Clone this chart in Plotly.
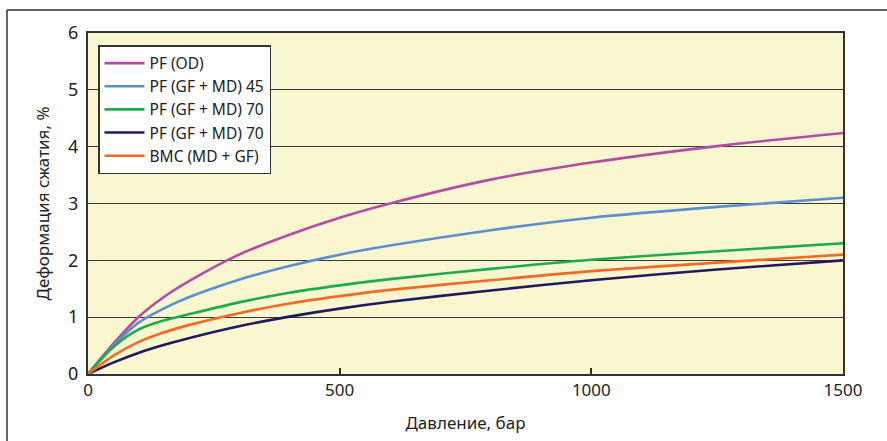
import plotly.graph_objects as go

pressure = [0, 50, 100, 150, 200, 300, 400, 500, 600, 800, 1000, 1250, 1500]

pf_od = [0, 0.53, 1.00, 1.35, 1.63, 2.10, 2.45, 2.75, 3.00, 3.42, 3.72, 4.01, 4.24]
pf_gf_md45 = [0, 0.50, 0.90, 1.15, 1.35, 1.66, 1.90, 2.10, 2.26, 2.53, 2.75, 2.94, 3.10]
pf_gf_md70 = [0, 0.47, 0.78, 0.94, 1.05, 1.26, 1.43, 1.56, 1.67, 1.85, 2.01, 2.16, 2.30]
pf_gf_md70b = [0, 0.20, 0.37, 0.51, 0.63, 0.84, 1.01, 1.15, 1.27, 1.47, 1.65, 1.84, 2.00]
bmc_md_gf = [0, 0.32, 0.56, 0.73, 0.86, 1.07, 1.24, 1.37, 1.48, 1.65, 1.81, 1.96, 2.10]

names = ["PF (OD)", "PF (GF + MD) 45", "PF (GF + MD) 70", "PF (GF + MD) 70", "BMC (MD + GF)"]
series = [pf_od, pf_gf_md45, pf_gf_md70, pf_gf_md70b, bmc_md_gf]
colors = ["#B54CA3", "#5B8FD0", "#1FAA4B", "#1F1B5E", "#F26A24"]

x_ticks = [0, 500, 1000, 1500]
y_ticks = [0, 1, 2, 3, 4, 5, 6]

fig = go.Figure()
for n, s, c in zip(names, series, colors):
    fig.add_trace(go.Scatter(x=pressure, y=s, name=n, mode="lines",
                             line=dict(color=c, width=2.6, shape="spline", smoothing=0.8)))

font_family = "Noto Sans, Open Sans, sans-serif"
L, R, T, B = 88, 44, 33, 67
W, H = 887, 441
pw, ph = W - L - R, H - T - B

fig.update_layout(
    width=W, height=H,
    margin=dict(l=L, r=R, t=T, b=B, autoexpand=False),
    paper_bgcolor="white",
    plot_bgcolor="#F9F7D0",
    font=dict(family=font_family, size=16, color="#222222"),
    showlegend=True,
    legend=dict(x=(98 - L) / pw, y=(H - B - 45) / ph, xanchor="left", yanchor="top",
                bgcolor="white", bordercolor="#333333", borderwidth=1.5,
                font=dict(size=15.5, color="#222222"), tracegroupgap=0, itemwidth=40),
)
fig.update_xaxes(range=[0, 1500], tickvals=x_ticks, showgrid=False, zeroline=False,
                 showline=True, linecolor="#333333", linewidth=2, mirror=True,
                 ticks="inside", ticklen=6, tickcolor="#333333", tickwidth=1.5,
                 tickfont=dict(size=17), automargin=False,
                 title=dict(text="Давление, бар", font=dict(size=17), standoff=17))
fig.update_yaxes(range=[0, 6], tickvals=y_ticks, showgrid=True, gridcolor="#3a3a3a", gridwidth=1.2,
                 zeroline=False, showline=True, linecolor="#333333", linewidth=2, mirror=True,
                 ticks="", tickfont=dict(size=18), ticklabelstandoff=4, automargin=False,
                 title=dict(text="Деформация сжатия, %", font=dict(size=17), standoff=14))

# outer frame (top and left edges)
fx = (7 - L) / pw
fy = (H - B - 10) / ph
fig.add_shape(type="line", xref="paper", yref="paper", x0=fx, y0=fy, x1=(W + 5 - L) / pw, y1=fy,
              line=dict(color="#333333", width=1.5))
fig.add_shape(type="line", xref="paper", yref="paper", x0=fx, y0=fy, x1=fx, y1=-(B + 5) / ph,
              line=dict(color="#333333", width=1.5))

fig.write_html("out.html", config={"displayModeBar": False},
               post_script="document.body.style.margin='0';document.body.style.overflow='hidden';")
